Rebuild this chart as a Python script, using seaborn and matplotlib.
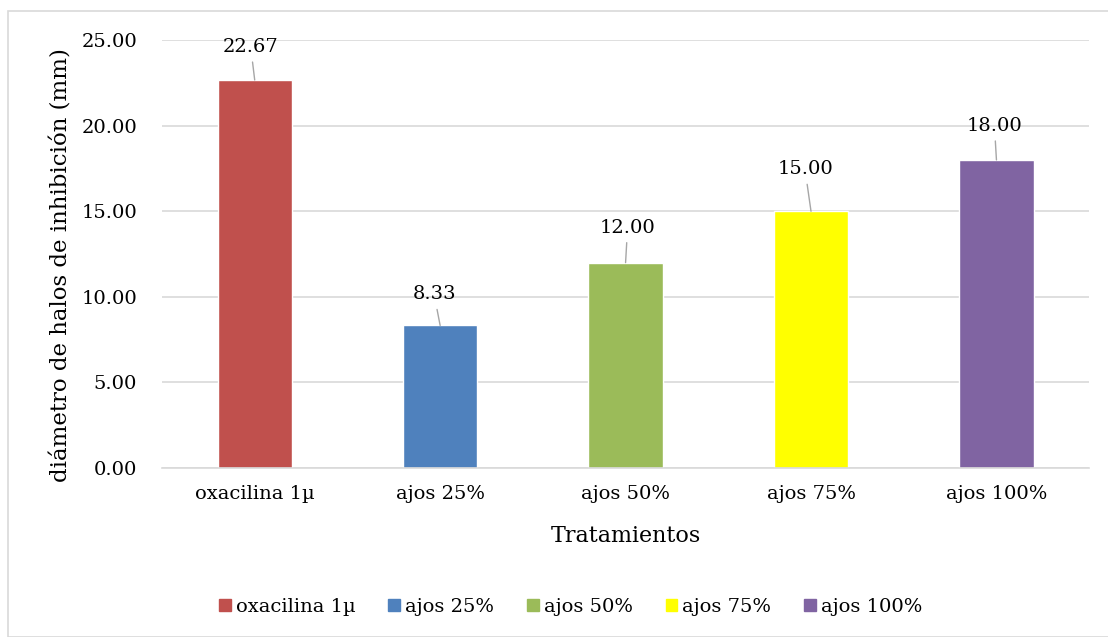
import pandas as pd
import matplotlib.pyplot as plt
import matplotlib.patches as mpatches
import seaborn as sns

# Datos del gráfico
tratamientos = ['oxacilina 1µ', 'ajos 25%', 'ajos 50%', 'ajos 75%', 'ajos 100%']
diametro = [22.67, 8.33, 12.00, 15.00, 18.00]
colores = ['#C0504D', '#4F81BD', '#9BBB59', '#FFFF00', '#8064A2']
yticks = [0, 5, 10, 15, 20, 25]

# Desplazamiento (px) de cada etiqueta de datos respecto a la barra
desp_x = [-4, -6, 2, -6, -2]
desp_y = [28, 26, 30, 37, 29]

df = pd.DataFrame({'tratamiento': tratamientos, 'diametro': diametro})

sns.set_style("white")
plt.rcParams['font.family'] = ['DejaVu Serif']
plt.rcParams['text.color'] = 'black'
plt.rcParams['axes.labelcolor'] = 'black'
plt.rcParams['xtick.color'] = 'black'
plt.rcParams['ytick.color'] = 'black'

fig = plt.figure(figsize=(11.08, 6.37), dpi=100)
ax = fig.add_axes([0.1462, 0.2653, 0.983 - 0.1462, 0.937 - 0.2653])

# Marco exterior del gráfico
fig.patches.append(mpatches.Rectangle((8 / 1108, 0), 1.0, 1 - 11 / 637,
                                      transform=fig.transFigure, fill=False,
                                      edgecolor='#d9d9d9', linewidth=1.2))

sns.barplot(data=df, x='tratamiento', y='diametro', hue='tratamiento',
            palette=colores, width=0.4, legend=False, saturation=1, ax=ax)

ax.set_ylim(0, 25)
ax.set_xlim(-0.5, 4.5)
ax.set_yticks(yticks)
ax.set_yticklabels([f'{v:.2f}' for v in yticks], fontsize=14)
ax.tick_params(axis='x', labelsize=14, length=0, pad=12)
ax.tick_params(axis='y', length=0, pad=18)
ax.yaxis.grid(True, color='#d9d9d9', linewidth=1.2)
ax.set_axisbelow(True)
for s in ['top', 'right', 'left']:
    ax.spines[s].set_visible(False)
ax.spines['bottom'].set_color('#d9d9d9')
ax.spines['bottom'].set_linewidth(1.2)

ax.set_xlabel('Tratamientos', fontsize=16, labelpad=16)
ax.set_ylabel('diámetro de halos de inhibición (mm)', fontsize=16.5)
ax.yaxis.set_label_coords(-0.096, 0.474)

# Etiquetas de datos con líneas guía
for i, v in enumerate(diametro):
    ax.annotate(f'{v:.2f}', xy=(i, v), xytext=(desp_x[i], desp_y[i]),
                textcoords='offset pixels', ha='center', va='baseline', fontsize=14,
                arrowprops=dict(arrowstyle='-', color='#a6a6a6', lw=1,
                                shrinkA=2, shrinkB=0))

# Leyenda
handles = [mpatches.Patch(color=c, label=t) for c, t in zip(colores, tratamientos)]
fig.legend(handles=handles, loc='center', bbox_to_anchor=(0.515, 0.047), ncol=5,
           frameon=False, fontsize=14, handlelength=0.6, handleheight=0.6,
           handletextpad=0.25, columnspacing=1.7)

fig.savefig('out.png', dpi=100)
plt.close()
